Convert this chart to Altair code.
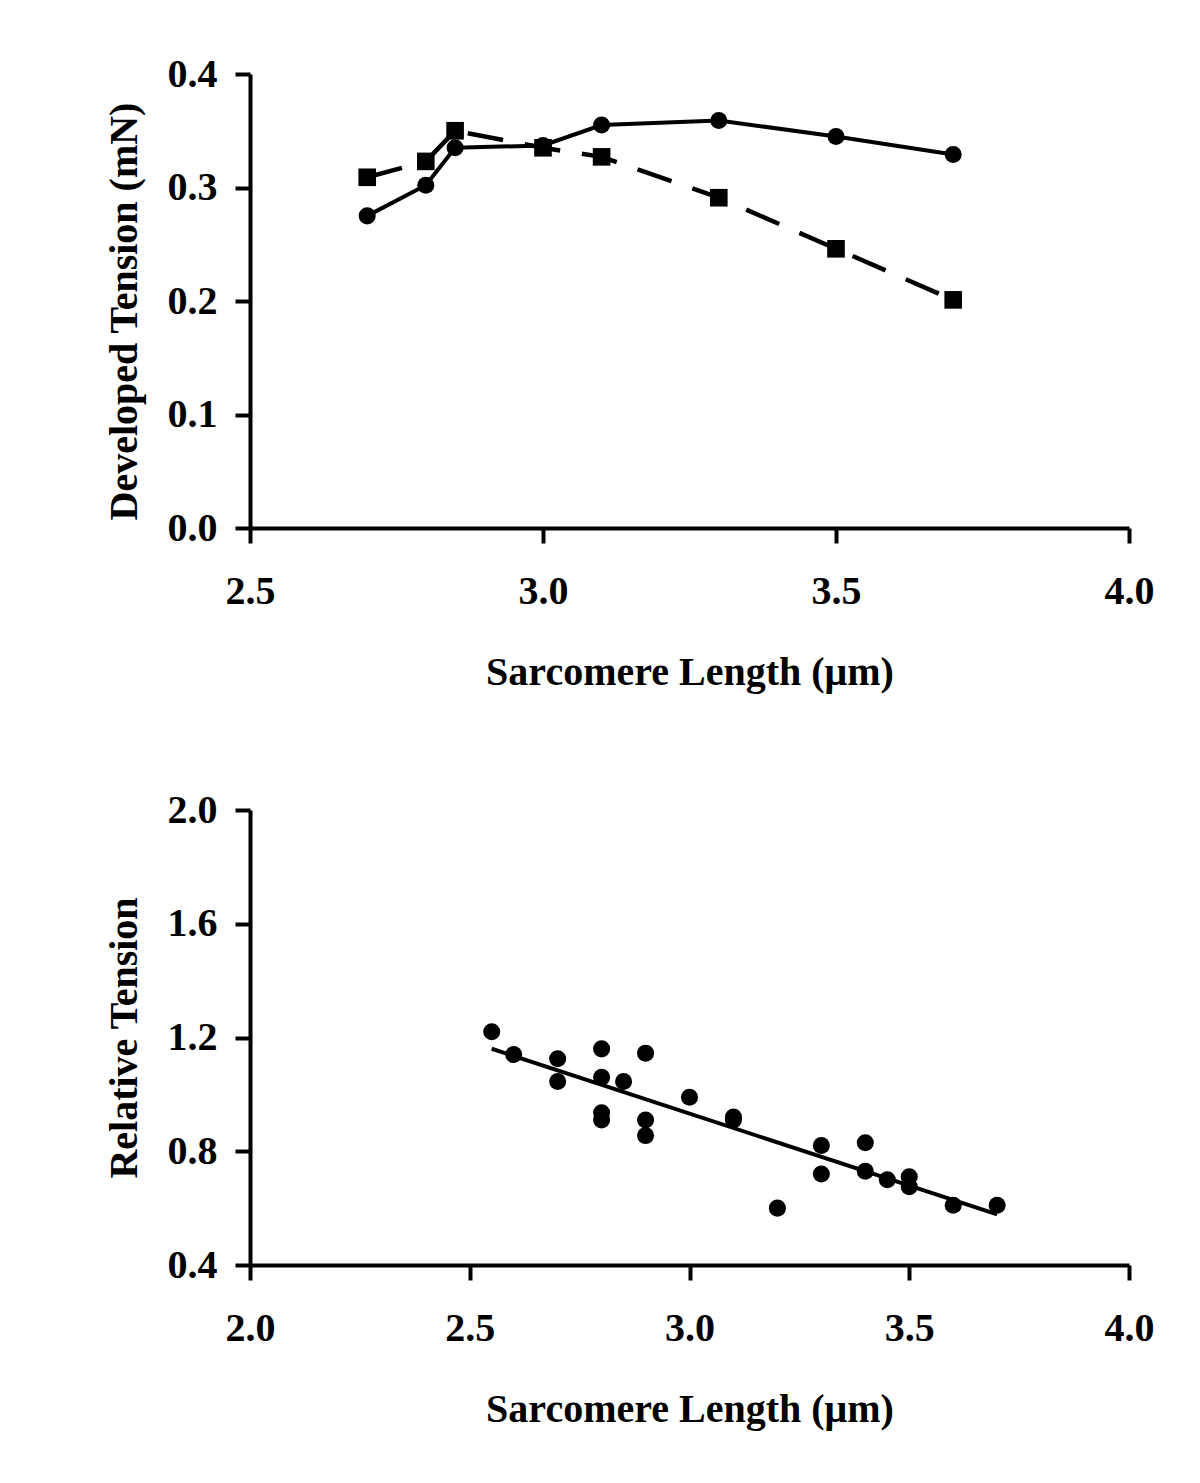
import altair as alt
import pandas as pd

# ---- Top panel data ----
top_length = [2.7, 2.8, 2.85, 3.0, 3.1, 3.3, 3.5, 3.7]
tension_circle = [0.275, 0.302, 0.335, 0.337, 0.355, 0.359, 0.345, 0.329]
tension_square = [0.309, 0.323, 0.350, 0.335, 0.327, 0.291, 0.246, 0.201]

top_x_ticks = [2.5, 3.0, 3.5, 4.0]
top_y_ticks = [0.0, 0.1, 0.2, 0.3, 0.4]

# ---- Bottom panel data ----
rel_length = [2.55, 2.6, 2.7, 2.7, 2.8, 2.8, 2.8, 2.8, 2.85, 2.9, 2.9, 2.9, 3.0,
              3.1, 3.1, 3.2, 3.3, 3.3, 3.4, 3.4, 3.45, 3.5, 3.5, 3.6, 3.7]
rel_tension = [1.22, 1.14, 1.125, 1.045, 1.16, 1.06, 0.935, 0.91, 1.045, 1.145, 0.91, 0.855, 0.99,
               0.92, 0.91, 0.60, 0.82, 0.72, 0.83, 0.73, 0.70, 0.71, 0.675, 0.61, 0.61]

bot_x_ticks = [2.0, 2.5, 3.0, 3.5, 4.0]
bot_y_ticks = [0.4, 0.8, 1.2, 1.6, 2.0]

FONT = "Liberation Serif"
W = 879
H_TOP = 454
H_BOT = 455

top_df = pd.DataFrame({"length": top_length, "circle": tension_circle, "square": tension_square})
bot_df = pd.DataFrame({"length": rel_length, "tension": rel_tension})

x_title = "Sarcomere Length (\u03bcm)"


def x_axis(values):
    return alt.Axis(values=values, format=".1f", title=x_title,
                    titleX=W / 2, titleY=156, titleBaseline="alphabetic", titleAlign="center")


def y_axis(values, title, ty):
    return alt.Axis(values=values, format=".1f", title=title,
                    titleX=-114, titleY=ty, titleBaseline="alphabetic", titleAlign="center",
                    titleAngle=270)


top_x = alt.X("length:Q", scale=alt.Scale(domain=[2.5, 4.0], nice=False, zero=False),
              axis=x_axis(top_x_ticks))
top_y_title = "Developed Tension (mN)"

top_y1 = alt.Y("circle:Q", scale=alt.Scale(domain=[0, 0.4], nice=False),
               axis=y_axis(top_y_ticks, top_y_title, 237), title=top_y_title)
top_y2 = alt.Y("square:Q", scale=alt.Scale(domain=[0, 0.4], nice=False),
               axis=y_axis(top_y_ticks, top_y_title, 237), title=top_y_title)

base_top = alt.Chart(top_df)
line_sq = base_top.mark_line(color="black", strokeWidth=4.5, strokeDash=[36, 22]).encode(x=top_x, y=top_y2)
line_ci = base_top.mark_line(color="black", strokeWidth=4).encode(x=top_x, y=top_y1)
pt_sq = base_top.mark_point(shape="square", filled=True, color="black", size=310, opacity=1).encode(x=top_x, y=top_y2)
pt_ci = base_top.mark_point(shape="circle", filled=True, color="black", size=290, opacity=1).encode(x=top_x, y=top_y1)

top = alt.layer(line_sq, line_ci, pt_sq, pt_ci).properties(width=W, height=H_TOP)

bot_x = alt.X("length:Q", scale=alt.Scale(domain=[2.0, 4.0], nice=False, zero=False),
              axis=x_axis(bot_x_ticks))
bot_y = alt.Y("tension:Q", scale=alt.Scale(domain=[0.4, 2.0], nice=False, zero=False),
              axis=y_axis(bot_y_ticks, "Relative Tension", H_BOT / 2), title="Relative Tension")

base_bot = alt.Chart(bot_df)
pts = base_bot.mark_point(shape="circle", filled=True, color="black", size=290, opacity=1).encode(x=bot_x, y=bot_y)
reg = base_bot.transform_regression("length", "tension").mark_line(color="black", strokeWidth=4).encode(x=bot_x, y=bot_y)

bottom = alt.layer(pts, reg).properties(width=W, height=H_BOT)

chart = alt.vconcat(top, bottom, spacing=282, bounds="flush").properties(
    padding={"left": 95, "top": 46, "right": 10, "bottom": 10}
).configure_view(strokeWidth=0).configure_axis(
    grid=False,
    domainColor="black", domainWidth=4,
    tickColor="black", tickWidth=4, tickSize=15,
    labelFont=FONT, labelFontSize=40, labelFontWeight="bold", labelColor="black", labelPadding=28,
    titleFont=FONT, titleFontSize=40, titleFontWeight="bold", titleColor="black",
    labelFlush=False, labelOverlap=False,
).configure_axisY(labelPadding=18)

chart.save("out.html", embed_options={"renderer": "svg", "actions": False})
